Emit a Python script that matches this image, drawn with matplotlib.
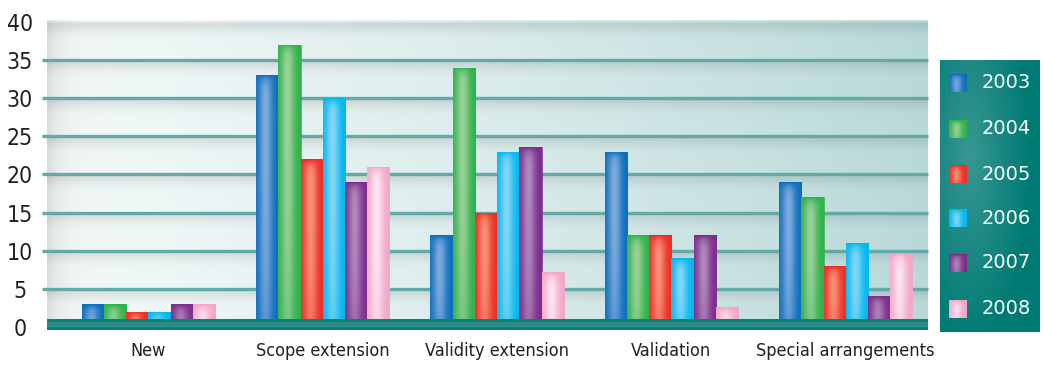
import matplotlib
matplotlib.use("Agg")
import matplotlib.pyplot as plt
import numpy as np
from matplotlib.colors import to_rgb
from matplotlib.patches import Rectangle

categories = ["New", "Scope extension", "Validity extension", "Validation", "Special arrangements"]
years = ["2003", "2004", "2005", "2006", "2007", "2008"]
values = {
    "2003": [3, 33, 12, 23, 19],
    "2004": [3, 37, 34, 12, 17],
    "2005": [2, 22, 15, 12, 8],
    "2006": [2, 30, 23, 9, 11],
    "2007": [3, 19, 23.6, 12, 4],
    "2008": [3, 21, 7.2, 2.6, 9.6],
}
# (edge, highlight) per series
colors = {
    "2003": ("#0b6dbd", "#80acdd"),
    "2004": ("#2db34a", "#9dd09c"),
    "2005": ("#ee2a24", "#f7937a"),
    "2006": ("#00b8ee", "#86d6f6"),
    "2007": ("#7a2c8a", "#b08abd"),
    "2008": ("#f3a5c8", "#fce6ef"),
}
yticks = [0, 5, 10, 15, 20, 25, 30, 35, 40]
grid_vals = [5, 10, 15, 20, 25, 30, 35]


def shaded(ec, hc, hpx, wpx, top_fade=5.0):
    # darker rim, lighter band a bit left of centre
    u = np.linspace(0, 1, wpx)[None, :]
    d = np.arange(hpx)[:, None].astype(float)
    wh = np.exp(-((u - 0.42) / 0.3) ** 2)
    wv = (1 - np.exp(-d / top_fade)) * (1 - 0.35 * (d / hpx) ** 3)
    w = (wh * wv)[..., None]
    return ec * (1 - w) + hc * w


W, H = 1043, 365
fig = plt.figure(figsize=(W / 100, H / 100), dpi=100)
fig.patch.set_facecolor("white")

ax = fig.add_axes([47 / W, (H - 330) / H, (928 - 47) / W, 310 / H])
x0, x1 = -0.582, 4.472
y0, y1 = -0.4, 40.26
ax.set_xlim(x0, x1)
ax.set_ylim(y0, y1)
for s in ax.spines.values():
    s.set_visible(False)

# striped background: light on the left, teal tint on the right
ny, nx = 400, 300
yy = np.linspace(y1, y0, ny)[:, None]
xx = np.linspace(0, 1, nx)[None, :]
left = np.array(to_rgb("#f2f8f8"))
right = np.array(to_rgb("#b9d9d9"))
t = np.clip(xx ** 1.3, 0, 1)
base = left[None, None, :] * (1 - t[..., None]) + right[None, None, :] * t[..., None]
base = np.broadcast_to(base, (ny, nx, 3)).copy()
phase = np.mod(yy, 5.0) / 5.0
shade = 0.10 * np.exp(-((1 - phase) / 0.25) ** 2)
edge = 0.10 * np.exp(-xx / 0.015)
base = base * (1 - shade[..., None]) * (1 - edge[..., None])
ax.imshow(base, extent=[x0, x1, y0, y1], aspect="auto", zorder=0, interpolation="bilinear")

# gridlines, sticking a little out to the left
ax.hlines(grid_vals, -0.006, 1, transform=ax.get_yaxis_transform(),
          colors="#62a9a7", lw=2.4, zorder=1, clip_on=False)

bw = 0.1274
px_per_unit = 310 / (y1 - y0)
for i, yr in enumerate(years):
    xs = np.arange(len(categories)) + (i - 2.5) * bw
    ec, hc = (np.array(to_rgb(c)) for c in colors[yr])
    bars = ax.bar(xs, values[yr], width=bw, color=colors[yr][0],
                  edgecolor=colors[yr][0], lw=0.4, zorder=2)
    for b, v in zip(bars, values[yr]):
        img = shaded(ec, hc, max(int(v * px_per_unit), 2), 24)
        im = ax.imshow(img, extent=[b.get_x(), b.get_x() + bw, 0, v],
                       aspect="auto", zorder=2.5, interpolation="bilinear")
        im.set_clip_path(b)

# floor slab
ax.add_patch(Rectangle((x0, y0), x1 - x0, 1.45, facecolor="#0e7e78",
                       edgecolor="none", zorder=3))
ax.add_patch(Rectangle((x0, 0.05), x1 - x0, 0.6, facecolor="#4a9f9a",
                       edgecolor="none", alpha=0.45, zorder=3.1))

ax.set_yticks(yticks)
ax.set_yticklabels([str(v) for v in yticks])
ax.set_xticks(range(len(categories)))
ax.set_xticklabels(categories)
ax.tick_params(axis="both", length=0, colors="#231f20")
ax.tick_params(axis="y", pad=19.5)
ax.tick_params(axis="x", pad=8.5)
for lab in ax.get_yticklabels():
    lab.set_ha("center")
    lab.set_fontfamily("DejaVu Sans")
    lab.set_fontstretch("condensed")
    lab.set_fontsize(16.5)
for lab in ax.get_xticklabels():
    lab.set_fontfamily("DejaVu Sans")
    lab.set_fontstretch("condensed")
    lab.set_fontsize(13)

# legend panel
lax = fig.add_axes([940 / W, (H - 332) / H, 100 / W, 272 / H])
lax.axis("off")
gy = np.linspace(1, 0, 200)[:, None]
gx = np.linspace(0, 1, 100)[None, :]
r = np.sqrt(((gx - 0.3) / 0.6) ** 2 + ((gy - 0.65) / 0.7) ** 2)
wl = np.clip(1 - r, 0, 1)[..., None] * 0.6
dark = np.array(to_rgb("#007b74"))
light = np.array(to_rgb("#5fa9a6"))
lax.imshow(dark * (1 - wl) + light * wl, extent=[0, 1, 0, 1], aspect="auto",
           interpolation="bilinear")
row_px = [83, 129, 174, 218, 263, 309]
sq = 18 / 272
for yr, ypx in zip(years, row_px):
    yc = (332 - ypx) / 272
    ec, hc = (np.array(to_rgb(c)) for c in colors[yr])
    lax.imshow(shaded(ec, hc, 18, 18, top_fade=3.0),
               extent=[0.09, 0.27, yc - sq / 2, yc + sq / 2],
               aspect="auto", interpolation="bilinear", zorder=2)
    lax.text(0.42, yc, yr, color="white", fontsize=14, va="center", ha="left",
             family="DejaVu Sans")
lax.set_xlim(0, 1)
lax.set_ylim(0, 1)

fig.savefig("out.png", dpi=100)
